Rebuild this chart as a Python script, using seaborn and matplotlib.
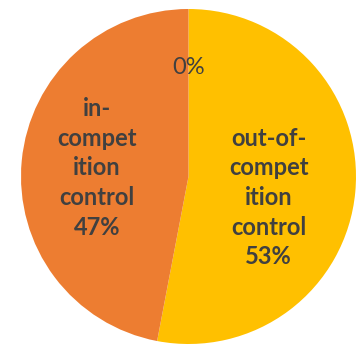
import numpy as np
import matplotlib
matplotlib.use("Agg")
import matplotlib.pyplot as plt
import seaborn as sns

# data
categories = ["out-of-competition control", "in-competition control", "other"]
shares = [53, 47, 0]
slice_labels = ["out-of-\ncompet\nition\ncontrol\n53%", "in-\ncompet\nition\ncontrol\n47%", "0%"]
slice_colors = ["#FFC000", "#ED7D31", "#A5A5A5"]

sns.set_theme(style="white")
plt.rcParams["font.family"] = ["Lato", "DejaVu Sans"]

fig = plt.figure(figsize=(3.64, 3.47), dpi=100)
ax = fig.add_axes([(188.5 - 167.5) / 364, (170.5 - 167.5) / 347, 335 / 364, 335 / 347])

wedges, _ = ax.pie(shares, colors=sns.color_palette(slice_colors), startangle=90,
                   counterclock=False, radius=1.0, wedgeprops=dict(linewidth=0))

# where Excel put the data labels (radius, extra shift)
label_r = [0.49, 0.55, 0.65]
label_shift = [(-0.01, -0.08), (0.0, 0.0), (0.0, 0.0)]
label_bold = [True, True, False]

for w, txt, r, (sx, sy), b in zip(wedges, slice_labels, label_r, label_shift, label_bold):
    th = np.deg2rad((w.theta1 + w.theta2) / 2)
    ax.text(r * np.cos(th) + sx, r * np.sin(th) + sy, txt, ha="center", va="center",
            fontsize=17, fontweight="bold" if b else "normal", color="#404040",
            linespacing=1.35)

ax.set_xlim(-1, 1)
ax.set_ylim(-1, 1)
ax.set_aspect("equal")
ax.axis("off")

fig.savefig("out.png", dpi=100, facecolor="white")
